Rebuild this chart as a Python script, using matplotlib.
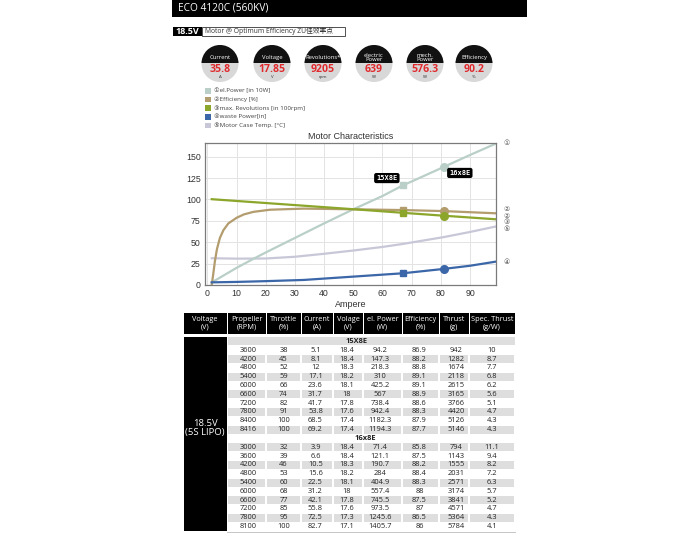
import matplotlib
matplotlib.use('Agg')
import matplotlib.pyplot as plt
from matplotlib.patches import Rectangle, Circle
from matplotlib.transforms import blended_transform_factory

plt.rcParams['font.family'] = ['Open Sans', 'DejaVu Sans', 'Noto Sans CJK SC']

title = 'ECO 4120C (560KV)'
badge = '18.5V'
subtitle = 'Motor @ Optimum Efficiency ZU佳效率点'

gauge_labels = ['Current', 'Voltage', 'Revolutions*', 'electric\nPower', 'mech.\nPower', 'Efficiency']
gauge_values = ['35.8', '17.85', '9205', '639', '576.3', '90.2']
gauge_units = ['A', 'V', 'rpm', 'W', 'W', '%']

legend_labels = ['①el.Power [in 10W]', '②Efficiency [%]', '③max. Revolutions [in 100rpm]',
                 '④waste Power[in]', '⑤Motor Case Temp. [°C]']
colors = ['#b9cfc8', '#b39c6e', '#8ca62c', '#3b66a8', '#c8c7d8']

# curves (x = current in A)
power_x = [1.5, 10, 16, 20, 30, 40, 50, 60, 67, 70, 81, 90, 99]
power_y = [3, 20, 31, 38, 55, 72, 88.5, 104, 116.5, 121, 138, 152, 165.5]
eff_x = [1.5, 2, 2.6, 3.3, 4.3, 5.5, 7.2, 10, 12.5, 15.8, 21.5, 33, 50, 67, 81, 99]
eff_y = [0, 12, 28, 42, 55, 64, 72, 78.5, 82.5, 85.5, 88, 89.3, 88.5, 87.6, 86.4, 83.8]
rev_x = [1.5, 50, 67, 81, 99]
rev_y = [100.3, 88.6, 84.4, 81, 76.8]
waste_x = [1.5, 10, 20, 33, 50, 67, 81, 90, 99]
waste_y = [3.1, 3.6, 4.5, 5.9, 9.8, 13.7, 18.8, 22.5, 27.4]
temp_x = [1.5, 10, 20, 30, 40, 50, 60, 67, 81, 90, 99]
temp_y = [31.3, 30.8, 31, 33, 36.5, 40.3, 44.5, 48, 56, 62, 68.5]

mark_x = [67.2, 81.1]
power_mk = [116.7, 138.3]
eff_mk = [87.8, 86.5]
rev_mk = [84, 80.5]
waste_mk = [13.7, 18.8]
prop_names = ['15X8E', '16x8E']

end_labels = ['①', '②', '②', '③', '⑤', '④']
end_y = [166, 88.5, 81, 73.5, 66, 27.4]

col_heads = ['Voltage\n(V)', 'Propeller\n(RPM)', 'Throttle\n(%)', 'Current\n(A)', 'Volage\n(V)',
             'el. Power\n(W)', 'Efficiency\n(%)', 'Thrust\n(g)', 'Spec. Thrust\n(g/W)']
rows_15 = [
    ['3600', '38', '5.1', '18.4', '94.2', '86.9', '942', '10'],
    ['4200', '45', '8.1', '18.4', '147.3', '88.2', '1282', '8.7'],
    ['4800', '52', '12', '18.3', '218.3', '88.8', '1674', '7.7'],
    ['5400', '59', '17.1', '18.2', '310', '89.1', '2118', '6.8'],
    ['6000', '66', '23.6', '18.1', '425.2', '89.1', '2615', '6.2'],
    ['6600', '74', '31.7', '18', '567', '88.9', '3165', '5.6'],
    ['7200', '82', '41.7', '17.8', '738.4', '88.6', '3766', '5.1'],
    ['7800', '91', '53.8', '17.6', '942.4', '88.3', '4420', '4.7'],
    ['8400', '100', '68.5', '17.4', '1182.3', '87.9', '5126', '4.3'],
    ['8416', '100', '69.2', '17.4', '1194.3', '87.7', '5146', '4.3'],
]
rows_16 = [
    ['3000', '32', '3.9', '18.4', '71.4', '85.8', '794', '11.1'],
    ['3600', '39', '6.6', '18.4', '121.1', '87.5', '1143', '9.4'],
    ['4200', '46', '10.5', '18.3', '190.7', '88.2', '1555', '8.2'],
    ['4800', '53', '15.6', '18.2', '284', '88.4', '2031', '7.2'],
    ['5400', '60', '22.5', '18.1', '404.9', '88.3', '2571', '6.3'],
    ['6000', '68', '31.2', '18', '557.4', '88', '3174', '5.7'],
    ['6600', '77', '42.1', '17.8', '745.5', '87.5', '3841', '5.2'],
    ['7200', '85', '55.8', '17.6', '973.5', '87', '4571', '4.7'],
    ['7800', '95', '72.5', '17.3', '1245.6', '86.5', '5364', '4.3'],
    ['8100', '100', '82.7', '17.1', '1405.7', '86', '5784', '4.1'],
]
voltage_label = '18.5V\n(5S LIPO)'

fig = plt.figure(figsize=(7, 5.6), dpi=100)
ov = fig.add_axes([0, 0, 1, 1])
ov.set_xlim(0, 700)
ov.set_ylim(560, 0)
ov.axis('off')

# header bar
ov.add_patch(Rectangle((172, 0), 355, 16.5, fc='black', ec='none'))
ov.text(178, 8.5, title, color='white', fontsize=7.3, va='center', ha='left')

ov.add_patch(Rectangle((173, 26.5), 29, 9.5, fc='black', ec='none'))
ov.text(187.5, 31.3, badge, color='white', fontsize=6.5, fontweight='bold', va='center', ha='center')
ov.add_patch(Rectangle((202, 26.5), 143, 9.5, fc='white', ec='#333333', lw=0.6))
ov.text(205, 31.3, subtitle, color='#333333', fontsize=4.9, va='center', ha='left')

# gauges
gx = [220, 272, 323, 374, 425, 474]
gy = 63.5
rad = 18.5
for x, lab, val, unit in zip(gx, gauge_labels, gauge_values, gauge_units):
    ov.add_patch(Circle((x, gy), rad, fc='#d8d8d8', ec='none'))
    top = Circle((x, gy), rad, fc='#111111', ec='none')
    ov.add_patch(top)
    clip = Rectangle((x - rad - 1, gy - rad - 1), 2 * rad + 2, rad, transform=ov.transData)
    top.set_clip_path(clip)
    ov.text(x, gy - 6, lab, color='white', fontsize=4.2, ha='center', va='center', linespacing=0.95)
    ov.text(x, gy + 6, val, color='#e02a2e', fontsize=7.6, fontweight='bold', ha='center', va='center')
    ov.text(x, gy + 13.5, unit, color='#333333', fontsize=3.2, ha='center', va='center')

# legend
for i, (lab, c) in enumerate(zip(legend_labels, colors)):
    yy = 91 + i * 8.6
    ov.add_patch(Rectangle((205, yy - 2.8), 6, 5.6, fc=c, ec='none'))
    ov.text(214, yy, lab, color='#444444', fontsize=4.5, va='center', ha='left')

# chart
ax = fig.add_axes([205 / 700, 1 - 285 / 560, 291 / 700, 142 / 560])
ax.set_xlim(-0.8, 98.9)
ax.set_ylim(0, 166)
ax.set_xticks(range(0, 100, 10))
ax.set_yticks(range(0, 151, 25))
ax.grid(True, color='#e3e3e3', lw=0.7)
ax.set_axisbelow(True)
ax.tick_params(length=0, labelsize=6.3, labelcolor='#333333', pad=3)
for lab in ax.get_xticklabels() + ax.get_yticklabels():
    lab.set_family('Liberation Sans')
for s in ax.spines.values():
    s.set_color('#7a7a7a')
    s.set_linewidth(0.9)
ax.set_title('Motor Characteristics', fontsize=6.5, family='Liberation Sans', color='#333333', pad=3)
ax.set_xlabel('Ampere', fontsize=6.5, family='Liberation Sans', color='#333333', labelpad=1.5)

ax.plot(temp_x, temp_y, color=colors[4], lw=1.6)
ax.plot(power_x, power_y, color=colors[0], lw=1.6)
ax.plot(eff_x, eff_y, color=colors[1], lw=1.6)
ax.plot(rev_x, rev_y, color=colors[2], lw=1.6)
ax.plot(waste_x, waste_y, color=colors[3], lw=1.6)
for ys, c in [(power_mk, colors[0]), (eff_mk, colors[1]), (rev_mk, colors[2]), (waste_mk, colors[3])]:
    ax.plot(mark_x[0], ys[0], marker='s', ms=5, color=c, ls='none')
    ax.plot(mark_x[1], ys[1], marker='o', ms=5.5, color=c, ls='none')

ax.text(61.5, 125, prop_names[0], fontsize=5, color='white', ha='center', va='center',
        family='DejaVu Sans Mono', fontweight='bold',
        bbox=dict(boxstyle='round,pad=0.3,rounding_size=0.3', fc='black', ec='none'))
ax.text(86.5, 131, prop_names[1], fontsize=5, color='white', ha='center', va='center',
        family='DejaVu Sans Mono', fontweight='bold',
        bbox=dict(boxstyle='round,pad=0.3,rounding_size=0.3', fc='black', ec='none'))

tr = blended_transform_factory(ax.transAxes, ax.transData)
for lab, yv in zip(end_labels, end_y):
    ax.text(1.025, yv, lab, transform=tr, fontsize=5, color='#555555', ha='left', va='center',
            family='DejaVu Sans', clip_on=False)

# table
bounds = [183, 227, 266, 301, 333, 363, 402, 439, 469, 515]
centers = [205, 248, 283.5, 315.5, 347, 380, 419.5, 456, 492]
for i, h in enumerate(col_heads):
    ov.add_patch(Rectangle((bounds[i] + 0.5, 313), bounds[i + 1] - bounds[i] - 1, 21, fc='black', ec='none'))
    ov.text((bounds[i] + bounds[i + 1]) / 2, 323.5, h, color='white', fontsize=5.3, ha='center', va='center',
            linespacing=1.05)

y0 = 337
pitch = 8.82
ov.add_patch(Rectangle((183.5, y0 - 0.5), 43, 22 * pitch + 0.5, fc='black', ec='none'))
ov.text(205, 428, voltage_label, color='white', fontsize=6.8, ha='center', va='center', linespacing=1.1)

all_rows = [prop_names[0]] + rows_15 + [prop_names[1]] + rows_16
for r, row in enumerate(all_rows):
    yt = y0 + r * pitch
    yc = yt + pitch / 2
    gray = (r % 2 == 0)
    if isinstance(row, str):
        if gray:
            ov.add_patch(Rectangle((227.5, yt + 0.4), 287.5, pitch - 0.8, fc='#dedede', ec='none'))
        ov.text(357 if r == 0 else 365, yc, row, color='#222222', fontsize=5.4, fontweight='bold',
                ha='center', va='center')
        continue
    for c, val in enumerate(row):
        if gray:
            ov.add_patch(Rectangle((bounds[c + 1] + 0.8, yt + 0.4), bounds[c + 2] - bounds[c + 1] - 1.6,
                                   pitch - 0.8, fc='#dedede', ec='none'))
        ov.text(centers[c + 1], yc, val, color='#222222', fontsize=5.4, ha='center', va='center')

ov.plot([227, 515], [y0 + 22 * pitch + 0.5] * 2, color='#bbbbbb', lw=0.6)

fig.savefig('out.png', dpi=100, facecolor='white')
